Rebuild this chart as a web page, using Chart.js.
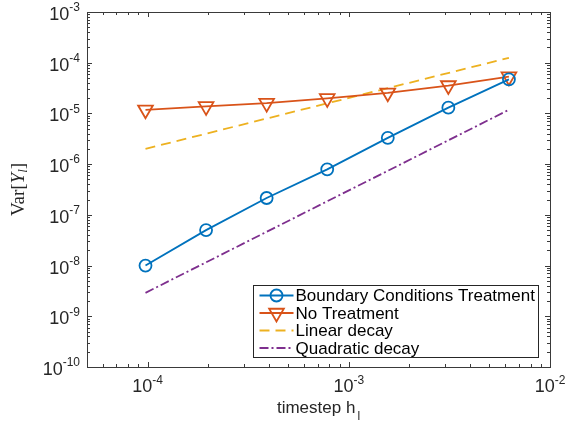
<!DOCTYPE html>
<html>
<head>
<meta charset="utf-8">
<script src="https://cdn.jsdelivr.net/npm/chart.js@4/dist/chart.umd.min.js"></script>
<style>
html,body{margin:0;padding:0;background:#fff;}
#c{display:block;}
</style>
</head>
<body>
<canvas id="c" width="568" height="426" style="width:568px;height:426px"></canvas>
<script>
// ---- data ----
const hSteps = [9.765625e-5, 1.953125e-4, 3.90625e-4, 7.8125e-4, 1.5625e-3, 3.125e-3, 6.25e-3];
const bcTreatment = [1.0e-8, 5.0e-8, 2.15e-7, 7.9e-7, 3.3e-6, 1.3e-5, 4.7e-5];
const noTreatment = [1.18e-5, 1.38e-5, 1.6e-5, 1.98e-5, 2.55e-5, 3.55e-5, 5.3e-5];
const refX = [9.765625e-5, 6.25e-3];
const linearDecay = [2.0e-6, 1.25e-4];
const quadraticDecay = [2.9e-9, 1.18e-5];
const seriesLabels = ['Boundary Conditions Treatment', 'No Treatment', 'Linear decay', 'Quadratic decay'];
const xTickExps = [-4, -3, -2];
const yTickExps = [-10, -9, -8, -7, -6, -5, -4, -3];
const xLabel = 'timestep h';
const xLabelSub = 'l';

const C_BLUE = '#0072BD', C_RED = '#D95319', C_YEL = '#EDB120', C_PUR = '#7E2F8E';

function pts(xs, ys){ return xs.map((x,i)=>({x:x, y:ys[i]})); }

const SANS = '"Liberation Sans", Arial, Helvetica, sans-serif';
const SERIF = '"Liberation Serif", "DejaVu Serif", serif';

const axesPlugin = {
  id: 'matlabAxes',
  afterDatasetsDraw(chart){
    const ctx = chart.ctx;
    const a = chart.chartArea;
    const xs = chart.scales.x, ys = chart.scales.y;
    ctx.save();
    // box
    ctx.strokeStyle = '#3a3a3a';
    ctx.lineWidth = 1;
    ctx.strokeRect(Math.round(a.left)+0.5, Math.round(a.top)+0.5, Math.round(a.right-a.left), Math.round(a.bottom-a.top));
    // ticks
    const drawTicksFor = (scale, horizontal) => {
      const lo = Math.floor(Math.log10(scale.min)), hi = Math.ceil(Math.log10(scale.max));
      for (let e = lo; e <= hi; e++){
        for (let m = 1; m <= 9; m++){
          const v = m * Math.pow(10, e);
          if (v < scale.min*0.9999 || v > scale.max*1.0001) continue;
          const p = Math.round(scale.getPixelForValue(v)) + 0.5;
          const len = (m === 1) ? 5 : 3;
          ctx.beginPath();
          if (horizontal){
            ctx.moveTo(p, a.bottom); ctx.lineTo(p, a.bottom - len);
            ctx.moveTo(p, a.top); ctx.lineTo(p, a.top + len);
          } else {
            ctx.moveTo(a.left, p); ctx.lineTo(a.left + len, p);
            ctx.moveTo(a.right, p); ctx.lineTo(a.right - len, p);
          }
          ctx.stroke();
        }
      }
    };
    drawTicksFor(xs, true);
    drawTicksFor(ys, false);

    // tick labels
    ctx.fillStyle = '#262626';
    const baseFont = '18px ' + SANS, expFont = '12px ' + SANS;
    ctx.textBaseline = 'middle';
    yTickExps.forEach(e => {
      const y = ys.getPixelForValue(Math.pow(10, e));
      const expStr = String(e);
      ctx.font = expFont;
      const we = ctx.measureText(expStr).width;
      const right = a.left - 7;
      ctx.textAlign = 'left';
      ctx.fillText(expStr, right - we, y - 4);
      ctx.font = baseFont;
      ctx.textAlign = 'right';
      ctx.fillText('10', right - we, y + 3);
    });
    xTickExps.forEach(e => {
      const x = xs.getPixelForValue(Math.pow(10, e));
      const expStr = String(e);
      ctx.font = baseFont;
      const wb = ctx.measureText('10').width;
      ctx.font = expFont;
      const we = ctx.measureText(expStr).width;
      const start = x - (wb + we)/2;
      const y = a.bottom + 20;
      ctx.font = baseFont; ctx.textAlign = 'left';
      ctx.fillText('10', start, y);
      ctx.font = expFont;
      ctx.fillText(expStr, start + wb, y - 6);
    });

    // x axis label
    ctx.font = '17px ' + SANS;
    const wl = ctx.measureText(xLabel).width;
    ctx.font = '12px ' + SANS;
    const ws = ctx.measureText(xLabelSub).width;
    const cx = (a.left + a.right)/2;
    const lx = cx - (wl + ws + 2)/2;
    ctx.textBaseline = 'alphabetic';
    ctx.textAlign = 'left';
    ctx.font = '17px ' + SANS;
    ctx.fillText(xLabel, lx, a.bottom + 46);
    ctx.font = '12px ' + SANS;
    ctx.fillText(xLabelSub, lx + wl + 2, a.bottom + 53);

    // y axis label: Var[Y_l]
    ctx.save();
    ctx.translate(24, (a.top + a.bottom)/2);
    ctx.rotate(-Math.PI/2);
    const parts = [
      {t:'Var[', f:'19px ' + SERIF, dy:0},
      {t:'Y', f:'italic 19px ' + SERIF, dy:0},
      {t:'l', f:'italic 13px ' + SERIF, dy:3},
      {t:']', f:'19px ' + SERIF, dy:0}
    ];
    let tw = 0;
    parts.forEach(p => { ctx.font = p.f; p.w = ctx.measureText(p.t).width; tw += p.w; });
    let px = -tw/2;
    ctx.textAlign = 'left';
    parts.forEach(p => { ctx.font = p.f; ctx.fillText(p.t, px, p.dy); px += p.w; });
    ctx.restore();

    // legend
    const lb = {x: 253.5, y: 285.5, w: 285, h: 72};
    ctx.fillStyle = '#fff';
    ctx.fillRect(lb.x, lb.y, lb.w, lb.h);
    ctx.strokeStyle = '#262626';
    ctx.lineWidth = 1;
    ctx.strokeRect(lb.x, lb.y, lb.w, lb.h);
    const dsets = chart.data.datasets;
    ctx.font = '17px ' + SANS;
    ctx.textBaseline = 'middle';
    ctx.textAlign = 'left';
    dsets.forEach((ds, i) => {
      const ry = lb.y + 10 + i*17.5;
      ctx.save();
      ctx.strokeStyle = ds.borderColor;
      ctx.lineWidth = ds.borderWidth;
      ctx.setLineDash(ds.borderDash || []);
      ctx.beginPath();
      ctx.moveTo(lb.x + 6, ry); ctx.lineTo(lb.x + 40, ry);
      ctx.stroke();
      ctx.setLineDash([]);
      if (ds.pointRadius > 0){
        ctx.fillStyle = 'rgba(0,0,0,0)';
        ctx.lineWidth = ds.pointBorderWidth;
        Chart.helpers.drawPoint(ctx, {pointStyle: ds.pointStyle, rotation: ds.pointRotation || 0, radius: ds.pointRadius, borderWidth: ds.pointBorderWidth}, lb.x + 23, ry);
      }
      ctx.restore();
      ctx.fillStyle = '#000';
      ctx.fillText(ds.label, lb.x + 42, ry + 1);
    });
    ctx.restore();
  }
};

new Chart(document.getElementById('c'), {
  type: 'line',
  data: {
    datasets: [
      {label: seriesLabels[0], data: pts(hSteps, bcTreatment), borderColor: C_BLUE, borderWidth: 1.8,
       pointStyle: 'circle', pointRadius: 6, pointBorderWidth: 1.8, pointBorderColor: C_BLUE, pointBackgroundColor: 'rgba(0,0,0,0)', fill: false},
      {label: seriesLabels[1], data: pts(hSteps, noTreatment), borderColor: C_RED, borderWidth: 1.8,
       pointStyle: 'triangle', pointRotation: 180, pointRadius: 8.5, pointBorderWidth: 1.8, pointBorderColor: C_RED, pointBackgroundColor: 'rgba(0,0,0,0)', fill: false},
      {label: seriesLabels[2], data: pts(refX, linearDecay), borderColor: C_YEL, borderWidth: 1.8, borderDash: [10, 6],
       pointRadius: 0, fill: false},
      {label: seriesLabels[3], data: pts(refX, quadraticDecay), borderColor: C_PUR, borderWidth: 1.8, borderDash: [9, 3, 2, 3],
       pointRadius: 0, fill: false}
    ]
  },
  options: {
    responsive: false,
    animation: false,
    devicePixelRatio: 1,
    layout: {padding: {left: 87, right: 18, top: 12, bottom: 59}},
    plugins: {legend: {display: false}, tooltip: {enabled: false}},
    elements: {line: {tension: 0}},
    scales: {
      x: {type: 'logarithmic', display: false, min: 5e-5, max: 1e-2},
      y: {type: 'logarithmic', display: false, min: 1e-10, max: 1e-3}
    }
  },
  plugins: [axesPlugin]
});
</script>
</body>
</html>
